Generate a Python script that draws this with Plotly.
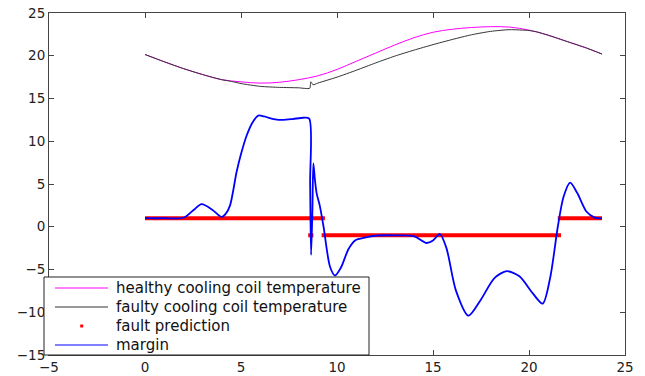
import plotly.graph_objects as go

# ---- data ----
t_temp = [0, 1, 2, 3, 4, 5, 6, 7, 8, 9, 10, 11, 12, 13, 14, 15, 16, 17, 18, 19, 20, 21, 22, 23, 23.8]
healthy_temp = [20.15, 19.3, 18.5, 17.8, 17.2, 16.95, 16.8, 16.9, 17.2, 17.65, 18.4, 19.35, 20.3, 21.25,
                22.1, 22.75, 23.1, 23.3, 23.4, 23.35, 23.0, 22.4, 21.65, 20.9, 20.2]

t_faulty = [0, 1, 2, 3, 4, 4.5, 5, 6, 7, 8, 8.58, 8.63, 8.68, 8.75, 9, 10, 11, 12, 13, 14, 15, 16, 17,
            18, 19, 20, 20.4, 21, 22, 23, 23.8]
faulty_temp = [20.15, 19.3, 18.5, 17.8, 17.2, 17.0, 16.75, 16.42, 16.3, 16.25, 16.2, 16.95, 16.85, 16.6,
               16.8, 17.5, 18.3, 19.15, 19.95, 20.65, 21.3, 21.9, 22.45, 22.85, 23.05, 22.95, 22.8,
               22.4, 21.65, 20.9, 20.2]

t_margin = [0, 1, 2.0, 2.5, 2.95, 3.5, 4.0, 4.2, 4.43, 4.77, 5.0, 5.3, 5.6, 5.9, 6.2, 6.7, 7.2, 7.7,
            8.25, 8.55, 8.6, 8.65, 8.72, 8.77, 8.85, 8.94, 9.1, 9.3, 9.64, 9.9, 10.2, 10.6, 10.94,
            11.5, 12, 13, 14, 14.67, 15.0, 15.36, 15.7, 16.2, 16.84, 17.5, 18.2, 18.84, 19.5, 20.2,
            20.71, 21.1, 21.5, 21.8, 22.14, 22.5, 23.0, 23.4, 23.8]
margin = [1.0, 1.0, 1.05, 1.9, 2.65, 2.0, 1.15, 1.5, 2.5, 6.4, 8.5, 10.7, 12.2, 13.0, 12.9, 12.6, 12.5,
          12.6, 12.75, 12.65, 5.0, -3.3, 2.0, 7.4, 5.5, 3.9, 2.5, 0.0, -4.7, -5.7, -4.8, -2.6, -1.6,
          -1.25, -1.05, -1.0, -1.1, -1.9, -1.6, -0.85, -2.5, -7.5, -10.4, -8.5, -6.0, -5.2, -5.8,
          -7.8, -9.0, -6.0, 0.0, 3.5, 5.15, 4.0, 1.75, 1.1, 0.97]

pred_start = [0, 8.5, 9.2, 21.5]
pred_end = [9.37, 8.77, 21.67, 23.8]
pred_value = [1, -1, -1, 1]

x_ticks = [-5, 0, 5, 10, 15, 20, 25]
y_ticks = [-15, -10, -5, 0, 5, 10, 15, 20, 25]

legend_names = ["healthy cooling coil temperature", "faulty cooling coil temperature",
                "fault prediction", "margin"]
legend_colors = ["#ff00ff", "#333333", "#ff0000", "#0000ff"]

FONT = "DejaVu Sans, Liberation Sans, Arial, sans-serif"

# ---- figure ----
fig = go.Figure()
fig.add_trace(go.Scatter(x=t_temp, y=healthy_temp, mode="lines",
                         line=dict(color=legend_colors[0], width=1, shape="spline"),
                         name=legend_names[0]))
fig.add_trace(go.Scatter(x=t_faulty, y=faulty_temp, mode="lines",
                         line=dict(color=legend_colors[1], width=1, shape="spline", smoothing=0.6),
                         name=legend_names[1]))

px_, py_ = [], []
for s, e, v in zip(pred_start, pred_end, pred_value):
    px_ += [s, e, None]
    py_ += [v, v, None]
fig.add_trace(go.Scatter(x=px_, y=py_, mode="lines", line=dict(color=legend_colors[2], width=4),
                         name=legend_names[2]))
fig.add_trace(go.Scatter(x=t_margin, y=margin, mode="lines",
                         line=dict(color=legend_colors[3], width=1.8, shape="spline", smoothing=0.8),
                         name=legend_names[3]))

axis_common = dict(showgrid=False, zeroline=False, showline=True, linecolor="#444444", linewidth=1,
                   mirror="ticks", ticks="inside", ticklen=5, tickcolor="#444444", automargin=False,
                   ticklabeloverflow="allow",
                   tickfont=dict(family=FONT, size=13.5, color="#222222"))
fig.update_xaxes(range=[-5, 25], tickvals=x_ticks, **axis_common)
fig.update_yaxes(range=[-15, 25], tickvals=y_ticks, **axis_common)

# ---- legend box drawn in paper coordinates (MATLAB-style compact legend) ----
PW, PH = 576.0, 342.0          # plot area size in px
def xp(px): return (px - 49) / PW
def yp(py): return (355 - py) / PH

shapes = [dict(type="rect", xref="paper", yref="paper", x0=xp(44), x1=xp(369), y0=yp(355), y1=yp(277),
               fillcolor="white", line=dict(color="#222222", width=1), layer="above")]
annotations = []
entry_y = [288, 307, 326, 345]
for name, color, ey in zip(legend_names, legend_colors, entry_y):
    if name == "fault prediction":
        shapes.append(dict(type="rect", xref="paper", yref="paper", x0=xp(80.2), x1=xp(83.2),
                           y0=yp(ey + 1.5), y1=yp(ey - 1.5), fillcolor=color, line=dict(width=0),
                           layer="above"))
    else:
        shapes.append(dict(type="line", xref="paper", yref="paper", x0=xp(55), x1=xp(108),
                           y0=yp(ey), y1=yp(ey), line=dict(color=color, width=1), layer="above"))
    annotations.append(dict(xref="paper", yref="paper", x=xp(114), y=yp(ey), text=name,
                            showarrow=False, xanchor="left", yanchor="middle",
                            font=dict(family=FONT, size=15, color="#111111")))

fig.update_layout(
    width=645, height=376,
    margin=dict(l=49, r=20, t=13, b=21),
    paper_bgcolor="white", plot_bgcolor="white",
    showlegend=False, hovermode=False,
    shapes=shapes, annotations=annotations,
)

# remove the browser's default 8px body margin so the figure fills the window exactly
fig.write_html("out.html", config={"displayModeBar": False, "staticPlot": True},
               post_script="document.body.style.margin='0';document.body.style.overflow='hidden';")
